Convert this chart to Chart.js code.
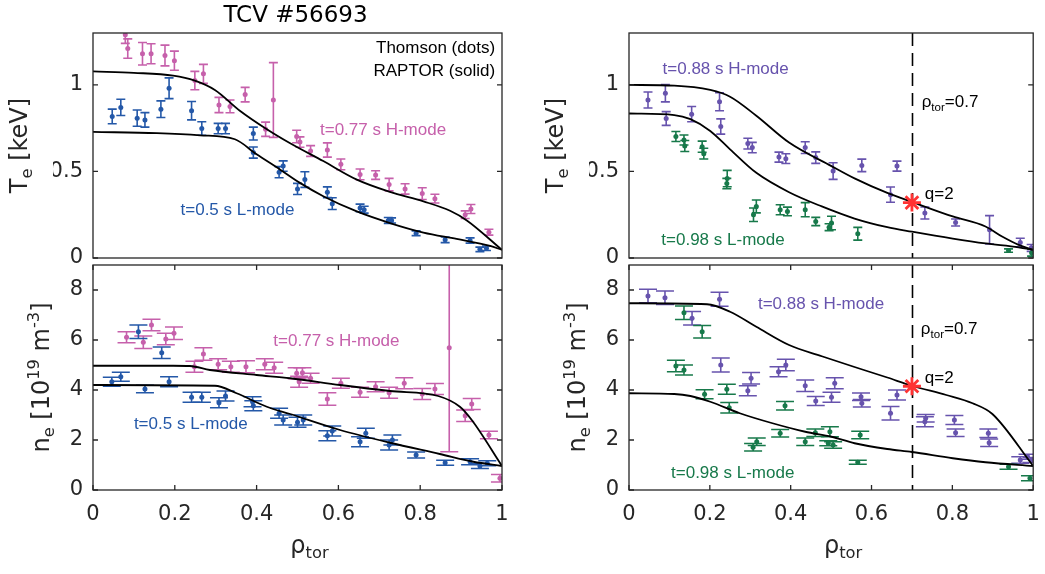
<!DOCTYPE html>
<html><head><meta charset="utf-8">
<script src="https://cdn.jsdelivr.net/npm/chart.js@4.4.1/dist/chart.umd.min.js"></script>
<style>
html,body{margin:0;padding:0;background:#fff;}
#wrap{position:relative;width:1045px;height:574px;overflow:hidden;background:#fff;}
canvas{position:absolute;left:0;top:0;}
</style></head><body>
<div id="wrap">
<canvas id="tl" width="1045" height="574"></canvas>
<canvas id="bl" width="1045" height="574"></canvas>
<canvas id="tr" width="1045" height="574"></canvas>
<canvas id="br" width="1045" height="574"></canvas>
</div>
<script>
// ---------- ticks / constants ----------
const RHO_TICKS = [0, 0.2, 0.4, 0.6, 0.8, 1];
const TE_TICKS = [0, 0.5, 1];
const NE_TICKS = [0, 2, 4, 6, 8];
const TE_MAX = 1.3;
const NE_MAX = 9;
const RHO_REF = 0.7;
const Q2_TE = 0.32;
const Q2_NE = 4.15;

// ---------- top-left: Te, t=0.77 s H-mode (pink) ----------
const TL_H_RHO = [0.079,0.085,0.121,0.142,0.176,0.199,0.249,0.270,0.308,0.335,0.372,0.422,0.441,0.498,0.506,0.532,0.573,0.606,0.653,0.691,0.724,0.763,0.805,0.836,0.910,0.924,0.968];
const TL_H_TE  = [1.29,1.21,1.18,1.18,1.17,1.14,1.025,1.064,0.884,0.876,0.944,0.744,0.913,0.702,0.670,0.618,0.624,0.541,0.483,0.479,0.424,0.399,0.372,0.343,0.250,0.283,0.149];
const TL_H_ERR = [0.05,0.056,0.065,0.058,0.06,0.055,0.053,0.055,0.044,0.037,0.042,0.041,0.216,0.036,0.03,0.031,0.041,0.031,0.031,0.025,0.036,0.03,0.034,0.025,0.022,0.026,0.017];
// top-left: Te, t=0.5 s L-mode (blue)
const TL_L_RHO = [0.047,0.068,0.108,0.127,0.166,0.186,0.241,0.266,0.306,0.324,0.392,0.392,0.455,0.465,0.500,0.518,0.573,0.585,0.653,0.663,0.722,0.730,0.790,0.861,0.922,0.946,0.962];
const TL_L_TE  = [0.818,0.870,0.808,0.798,0.860,0.981,0.851,0.748,0.748,0.748,0.719,0.609,0.496,0.531,0.399,0.453,0.380,0.314,0.289,0.279,0.217,0.217,0.143,0.105,0.101,0.050,0.056];
const TL_L_ERR = [0.042,0.047,0.047,0.042,0.048,0.06,0.053,0.039,0.03,0.03,0.037,0.032,0.032,0.03,0.032,0.045,0.031,0.034,0.022,0.02,0.017,0.015,0.014,0.016,0.015,0.013,0.013];
// RAPTOR
const TL_H_LINE_RHO = [0,0.1,0.196,0.249,0.298,0.359,0.425,0.482,0.563,0.645,0.726,0.808,0.873,0.914,1];
const TL_H_LINE_TE  = [1.078,1.07,1.054,1.025,0.971,0.851,0.744,0.663,0.56,0.453,0.382,0.327,0.273,0.217,0.047];
const TL_L_LINE_RHO = [0,0.156,0.262,0.347,0.40,0.457,0.506,0.563,0.645,0.726,0.808,0.889,0.971,1];
const TL_L_LINE_TE  = [0.729,0.721,0.709,0.686,0.599,0.512,0.434,0.357,0.269,0.202,0.147,0.110,0.07,0.047];

// ---------- bottom-left: ne ----------
const BL_H_RHO = [0.082,0.123,0.143,0.178,0.198,0.248,0.270,0.306,0.337,0.374,0.420,0.443,0.498,0.504,0.512,0.532,0.573,0.606,0.653,0.691,0.724,0.761,0.805,0.836,0.871,0.910,0.926,0.968,0.995];
const BL_H_NE  = [6.11,5.91,6.60,6.04,6.27,4.93,5.44,5.03,4.93,4.93,5.03,4.89,4.67,4.33,4.69,4.47,3.64,4.27,3.91,4.13,3.89,4.27,3.84,4.04,5.69,2.97,3.44,2.20,0.47];
const BL_H_ERR = [0.22,0.25,0.23,0.23,0.25,0.22,0.25,0.22,0.22,0.24,0.22,0.22,0.22,0.22,0.2,0.2,0.25,0.2,0.2,0.2,0.22,0.22,0.22,0.22,4.16,0.23,0.22,0.15,0.15];
const BL_L_RHO = [0.046,0.068,0.111,0.127,0.168,0.186,0.241,0.266,0.308,0.324,0.390,0.392,0.455,0.465,0.500,0.514,0.573,0.585,0.653,0.667,0.724,0.732,0.790,0.861,0.922,0.946,0.964];
const BL_L_NE  = [4.33,4.53,6.33,4.04,5.49,4.33,3.71,3.71,3.49,3.76,3.53,3.37,3.07,2.80,2.71,2.80,2.17,2.36,1.93,2.27,1.80,2.00,1.40,1.09,1.13,0.96,1.07];
const BL_L_ERR = [0.18,0.18,0.27,0.15,0.23,0.2,0.2,0.2,0.2,0.2,0.2,0.2,0.2,0.2,0.2,0.2,0.2,0.2,0.2,0.2,0.2,0.2,0.12,0.1,0.12,0.1,0.1];
const BL_H_LINE_RHO = [0,0.196,0.237,0.286,0.40,0.482,0.604,0.726,0.844,0.897,0.926,1];
const BL_H_LINE_NE  = [4.97,4.97,4.96,4.8,4.6,4.47,4.2,3.96,3.76,3.33,2.8,0.96];
const BL_L_LINE_RHO = [0,0.298,0.351,0.425,0.482,0.604,0.726,0.848,0.93,1];
const BL_L_LINE_NE  = [4.2,4.17,3.87,3.33,3.04,2.4,1.89,1.44,1.13,0.96];

// ---------- top-right: Te, t=0.88 s H-mode (purple), t=0.98 s L-mode (green) ----------
const TR_H_RHO = [0.047,0.090,0.092,0.155,0.224,0.227,0.294,0.305,0.371,0.388,0.436,0.462,0.505,0.576,0.647,0.663,0.732,0.808,0.892,0.968,0.995];
const TR_H_TE  = [0.913,0.952,0.806,0.831,0.903,0.760,0.661,0.638,0.583,0.574,0.638,0.580,0.502,0.535,0.366,0.531,0.260,0.205,0.163,0.089,0.058];
const TR_H_ERR = [0.046,0.05,0.04,0.044,0.052,0.044,0.031,0.03,0.029,0.028,0.034,0.033,0.048,0.036,0.044,0.029,0.035,0.02,0.082,0.025,0.02];
const TR_L_RHO = [0.116,0.136,0.138,0.181,0.185,0.243,0.242,0.315,0.308,0.374,0.392,0.436,0.462,0.495,0.501,0.566,0.939,0.996];
const TR_L_TE  = [0.702,0.682,0.647,0.643,0.603,0.459,0.430,0.298,0.250,0.279,0.269,0.279,0.211,0.178,0.202,0.140,0.043,0.031];
const TR_L_ERR = [0.029,0.029,0.032,0.032,0.031,0.047,0.03,0.037,0.039,0.029,0.025,0.041,0.024,0.02,0.039,0.037,0.01,0.02];
const TR_H_LINE_RHO = [0,0.112,0.201,0.25,0.315,0.396,0.501,0.558,0.639,0.7,0.801,0.882,0.923,0.964,1];
const TR_H_LINE_TE  = [1.0,0.996,0.971,0.932,0.822,0.667,0.531,0.46,0.376,0.324,0.24,0.182,0.124,0.076,0.047];
const TR_L_LINE_RHO = [0,0.112,0.152,0.201,0.25,0.315,0.396,0.477,0.558,0.639,0.7,0.801,0.882,0.964,1];
const TR_L_LINE_TE  = [0.835,0.826,0.802,0.734,0.628,0.492,0.38,0.298,0.228,0.178,0.152,0.112,0.084,0.062,0.047];

// ---------- bottom-right: ne ----------
const BR_H_RHO = [0.047,0.089,0.156,0.224,0.227,0.294,0.302,0.370,0.388,0.436,0.462,0.501,0.509,0.574,0.576,0.647,0.663,0.732,0.734,0.805,0.808,0.889,0.891,0.968,0.986,0.996];
const BR_H_NE  = [7.76,7.69,6.87,7.63,5.00,3.97,4.47,4.73,5.00,4.17,3.56,3.71,4.27,3.73,3.47,3.07,3.80,2.73,2.87,2.80,2.29,2.27,1.89,1.20,1.33,1.20];
const BR_H_ERR = [0.27,0.27,0.27,0.28,0.28,0.2,0.23,0.2,0.23,0.23,0.18,0.2,0.22,0.15,0.15,0.27,0.2,0.2,0.15,0.18,0.15,0.17,0.15,0.13,0.1,0.1];
const BR_L_RHO = [0.116,0.136,0.136,0.181,0.187,0.242,0.248,0.307,0.316,0.374,0.386,0.436,0.461,0.493,0.497,0.505,0.566,0.572,0.939,0.992];
const BR_L_NE  = [4.96,4.80,7.09,6.33,3.83,4.03,3.29,1.71,1.93,2.27,3.37,1.93,2.29,1.87,2.33,1.80,1.11,2.20,0.93,0.47];
const BR_L_ERR = [0.23,0.2,0.27,0.25,0.18,0.2,0.21,0.15,0.15,0.15,0.17,0.15,0.15,0.1,0.2,0.13,0.08,0.15,0.1,0.1];
const BR_H_LINE_RHO = [0,0.193,0.25,0.315,0.396,0.477,0.558,0.639,0.7,0.785,0.85,0.899,1];
const BR_H_LINE_NE  = [7.47,7.43,7.13,6.53,5.8,5.35,4.92,4.5,4.17,3.8,3.47,3.04,0.96];
const BR_L_LINE_RHO = [0,0.112,0.152,0.201,0.274,0.355,0.436,0.501,0.558,0.639,0.7,0.801,0.882,1];
const BR_L_LINE_NE  = [3.87,3.84,3.76,3.53,3.07,2.67,2.33,2.13,1.87,1.64,1.52,1.27,1.11,0.96];

// ---------- styling ----------
const PINK = '#c660ab', BLUE = '#2458a8', PURPLE = '#6753ad', GREEN = '#17794a';
const AX = '#262626';
const TICK_FONT = 'DejaVu Sans';
const NOTE_FONT = '"Liberation Sans", Arial, sans-serif';

const pts = (xs, ys) => xs.map((x, i) => ({x, y: ys[i]}));

function dots(xs, ys, errs, color) {
  return {data: pts(xs, ys), errors: errs, backgroundColor: color, borderColor: color,
    pointRadius: 2.5, pointBorderWidth: 0, showLine: false, order: 1};
}
function curve(xs, ys) {
  return {data: pts(xs, ys), showLine: true, borderColor: '#000', borderWidth: 1.8,
    pointRadius: 0, cubicInterpolationMode: 'monotone', order: 0};
}
function star(x, y) {
  return {data: [{x, y}], pointStyle: 'star', pointRadius: 9, borderColor: '#ff3333',
    pointBorderWidth: 2.8, backgroundColor: '#ff3333', showLine: false, order: -1};
}

function drawRich(ctx, parts, x, y, o) {
  const size = o.size;
  ctx.save();
  ctx.translate(x, y);
  if (o.rotate) ctx.rotate(o.rotate);
  ctx.fillStyle = o.color;
  ctx.textBaseline = 'alphabetic';
  ctx.textAlign = 'left';
  let w = 0;
  const items = parts.map(([t, m]) => {
    const s = m ? size * 0.68 : size;
    ctx.font = s + 'px ' + o.family;
    const wd = ctx.measureText(t).width;
    w += wd;
    return {t, s, w: wd, dy: m === 'sub' ? size * 0.22 : (m === 'sup' ? -size * 0.42 : 0)};
  });
  let cx = o.align === 'center' ? -w / 2 : (o.align === 'right' ? -w : 0);
  const by = o.middle ? size * 0.36 : 0;
  for (const it of items) {
    ctx.font = it.s + 'px ' + o.family;
    ctx.fillText(it.t, cx, it.dy + by);
    cx += it.w;
  }
  ctx.restore();
}

const decor = {
  id: 'decor',
  beforeDatasetsDraw(chart, args, o) {
    const ctx = chart.ctx, ca = chart.chartArea, xs = chart.scales.x, ys = chart.scales.y;
    ctx.save();
    ctx.beginPath();
    ctx.rect(ca.left, ca.top, ca.right - ca.left, ca.bottom - ca.top);
    ctx.clip();
    if (o.refX != null) {
      const px = Math.round(xs.getPixelForValue(o.refX)) + 0.5;
      ctx.strokeStyle = '#000'; ctx.lineWidth = 1.6; ctx.setLineDash([13, 7]);
      ctx.beginPath(); ctx.moveTo(px, ca.top); ctx.lineTo(px, ca.bottom); ctx.stroke();
      ctx.setLineDash([]);
    }
    chart.data.datasets.forEach((ds, i) => {
      if (!ds.errors) return;
      const meta = chart.getDatasetMeta(i);
      ctx.strokeStyle = ds.borderColor; ctx.lineWidth = 1.6;
      meta.data.forEach((el, j) => {
        const v = ds.data[j].y, e = ds.errors[j];
        const y1 = ys.getPixelForValue(v - e), y2 = ys.getPixelForValue(v + e);
        const w = o.capW;
        ctx.beginPath();
        ctx.moveTo(el.x, y1); ctx.lineTo(el.x, y2);
        ctx.moveTo(el.x - w, y1); ctx.lineTo(el.x + w, y1);
        ctx.moveTo(el.x - w, y2); ctx.lineTo(el.x + w, y2);
        ctx.stroke();
      });
    });
    ctx.restore();
  },
  afterDraw(chart, args, o) {
    const ctx = chart.ctx, ca = chart.chartArea, xs = chart.scales.x, ys = chart.scales.y;
    ctx.save();
    ctx.strokeStyle = AX; ctx.lineWidth = 1.3;
    ctx.strokeRect(ca.left, ca.top, ca.right - ca.left, ca.bottom - ca.top);
    const TL = 5;
    ctx.beginPath();
    ys.ticks.forEach(t => {
      const py = ys.getPixelForValue(t.value);
      ctx.moveTo(ca.left, py); ctx.lineTo(ca.left + TL, py);
      ctx.moveTo(ca.right, py); ctx.lineTo(ca.right - TL, py);
    });
    if (o.xTicks) xs.ticks.forEach(t => {
      const px = xs.getPixelForValue(t.value);
      ctx.moveTo(px, ca.top); ctx.lineTo(px, ca.top + TL);
      ctx.moveTo(px, ca.bottom); ctx.lineTo(px, ca.bottom - TL);
    });
    ctx.stroke();
    const cy = (ca.top + ca.bottom) / 2, cx = (ca.left + ca.right) / 2;
    drawRich(ctx, o.yTitle, o.yTitleX, cy, {size: 24, family: TICK_FONT, color: AX, align: 'center', rotate: -Math.PI / 2});
    if (o.xTitle) drawRich(ctx, [['ρ'], ['tor', 'sub']], cx + o.xTitleDx, o.xTitleY, {size: 24, family: TICK_FONT, color: AX, align: 'center'});
    if (o.title) drawRich(ctx, [[o.title]], cx - 2, 22, {size: 23, family: TICK_FONT, color: '#000', align: 'center'});
    (o.notes || []).forEach(n => {
      drawRich(ctx, n.parts, xs.getPixelForValue(n.x), ys.getPixelForValue(n.y),
        {size: 17, family: NOTE_FONT, color: n.color, align: n.align || 'left', middle: true});
    });
    ctx.restore();
  }
};

function makePanel(id, p) {
  const tickFont = {family: TICK_FONT, size: 21};
  new Chart(document.getElementById(id), {
    type: 'scatter',
    data: {datasets: p.datasets},
    options: {
      responsive: false, animation: false, devicePixelRatio: 1, events: [],
      layout: {padding: p.padding},
      plugins: {legend: {display: false}, tooltip: {enabled: false}, decor: p.decor},
      scales: {
        x: {
          type: 'linear', min: 0, max: 1,
          afterBuildTicks: s => { s.ticks = RHO_TICKS.map(v => ({value: v})); },
          afterFit: s => { s.height = p.xAxisH; s.paddingLeft = 0; s.paddingRight = 0; },
          ticks: {display: p.xLabels, font: tickFont, color: AX, padding: 12, maxRotation: 0, autoSkip: false, callback: v => String(v)},
          grid: {display: false, drawTicks: false, tickLength: 0}, border: {display: false}
        },
        y: {
          type: 'linear', min: 0, max: p.ymax,
          afterBuildTicks: s => { s.ticks = p.yticks.map(v => ({value: v})); },
          afterFit: s => { s.width = 40; s.paddingTop = 0; s.paddingBottom = 0; },
          ticks: {font: tickFont, color: AX, padding: 10, autoSkip: false, callback: v => String(v)},
          grid: {display: false, drawTicks: false, tickLength: 0}, border: {display: false}
        }
      }
    },
    plugins: [decor]
  });
}

const TE_TITLE = [['T'], ['e', 'sub'], [' [keV]']];
const NE_TITLE = [['n'], ['e', 'sub'], [' [10'], ['19', 'sup'], [' m'], ['-3', 'sup'], [']']];
const RHO_NOTE = [['ρ'], ['tor', 'sub'], ['=0.7']];

makePanel('tl', {
  padding: {left: 53, top: 33, right: 543, bottom: 316}, xAxisH: 0, xLabels: false,
  ymax: TE_MAX, yticks: TE_TICKS,
  datasets: [curve(TL_H_LINE_RHO, TL_H_LINE_TE), curve(TL_L_LINE_RHO, TL_L_LINE_TE),
    dots(TL_H_RHO, TL_H_TE, TL_H_ERR, PINK), dots(TL_L_RHO, TL_L_TE, TL_L_ERR, BLUE)],
  decor: {capW: 4.5, xTicks: false, yTitle: TE_TITLE, yTitleX: 27, title: 'TCV #56693',
    notes: [
      {parts: [['Thomson (dots)']], x: 0.983, y: 1.221, color: '#000', align: 'right'},
      {parts: [['RAPTOR (solid)']], x: 0.983, y: 1.087, color: '#000', align: 'right'},
      {parts: [['t=0.77 s H-mode']], x: 0.555, y: 0.744, color: PINK},
      {parts: [['t=0.5 s L-mode']], x: 0.214, y: 0.285, color: BLUE}
    ]}
});

makePanel('bl', {
  padding: {left: 53, top: 265, right: 543, bottom: 44}, xAxisH: 40, xLabels: true,
  ymax: NE_MAX, yticks: NE_TICKS,
  datasets: [curve(BL_H_LINE_RHO, BL_H_LINE_NE), curve(BL_L_LINE_RHO, BL_L_LINE_NE),
    dots(BL_H_RHO, BL_H_NE, BL_H_ERR, PINK), dots(BL_L_RHO, BL_L_NE, BL_L_ERR, BLUE)],
  decor: {capW: 9, xTicks: true, yTitle: NE_TITLE, yTitleX: 49, xTitle: true, xTitleY: 553, xTitleDx: 12,
    notes: [
      {parts: [['t=0.77 s H-mode']], x: 0.441, y: 6.0, color: PINK},
      {parts: [['t=0.5 s L-mode']], x: 0.1, y: 2.69, color: BLUE}
    ]}
});

makePanel('tr', {
  padding: {left: 589, top: 33, right: 5, bottom: 316}, xAxisH: 0, xLabels: false,
  ymax: TE_MAX, yticks: TE_TICKS,
  datasets: [star(RHO_REF, Q2_TE), curve(TR_H_LINE_RHO, TR_H_LINE_TE), curve(TR_L_LINE_RHO, TR_L_LINE_TE),
    dots(TR_H_RHO, TR_H_TE, TR_H_ERR, PURPLE), dots(TR_L_RHO, TR_L_TE, TR_L_ERR, GREEN)],
  decor: {capW: 4.5, xTicks: false, yTitle: TE_TITLE, yTitleX: 563, refX: RHO_REF,
    notes: [
      {parts: [['t=0.88 s H-mode']], x: 0.083, y: 1.097, color: PURPLE},
      {parts: [['t=0.98 s L-mode']], x: 0.08, y: 0.11, color: GREEN},
      {parts: RHO_NOTE, x: 0.724, y: 0.909, color: '#000'},
      {parts: [['q=2']], x: 0.732, y: 0.378, color: '#000'}
    ]}
});

makePanel('br', {
  padding: {left: 589, top: 265, right: 5, bottom: 44}, xAxisH: 40, xLabels: true,
  ymax: NE_MAX, yticks: NE_TICKS,
  datasets: [star(RHO_REF, Q2_NE), curve(BR_H_LINE_RHO, BR_H_LINE_NE), curve(BR_L_LINE_RHO, BR_L_LINE_NE),
    dots(BR_H_RHO, BR_H_NE, BR_H_ERR, PURPLE), dots(BR_L_RHO, BR_L_NE, BR_L_ERR, GREEN)],
  decor: {capW: 9, xTicks: true, yTitle: NE_TITLE, yTitleX: 585, xTitle: true, xTitleY: 553, xTitleDx: 12, refX: RHO_REF,
    notes: [
      {parts: [['t=0.88 s H-mode']], x: 0.319, y: 7.47, color: PURPLE},
      {parts: [['t=0.98 s L-mode']], x: 0.104, y: 0.73, color: GREEN},
      {parts: RHO_NOTE, x: 0.722, y: 6.48, color: '#000'},
      {parts: [['q=2']], x: 0.732, y: 4.53, color: '#000'}
    ]}
});
</script>
</body></html>
